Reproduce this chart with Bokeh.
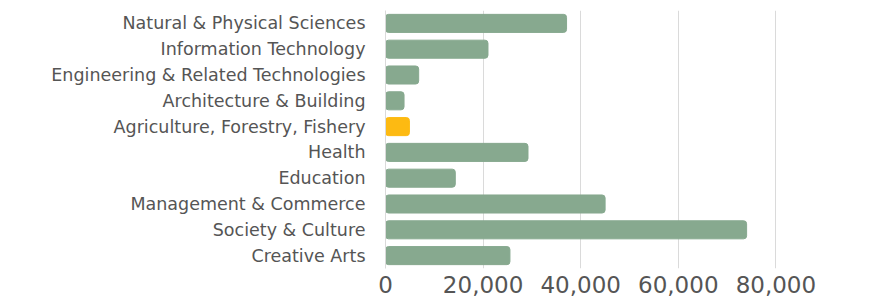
from bokeh.plotting import figure
from bokeh.models import ColumnDataSource, NumeralTickFormatter, FixedTicker, Range1d
from bokeh.embed import file_html
from bokeh.resources import INLINE

categories = ["Creative Arts", "Society & Culture", "Management & Commerce", "Education",
              "Health", "Agriculture, Forestry, Fishery", "Architecture & Building",
              "Engineering & Related Technologies", "Information Technology",
              "Natural & Physical Sciences"]
values = [25500, 74000, 45000, 14300, 29200, 4900, 3800, 6800, 21000, 37100]
colors = ["#87A98F"] * 10
colors[5] = "#FDBA12"
x_ticks = [0, 20000, 40000, 60000, 80000]

src = ColumnDataSource(dict(cat=categories, val=values, color=colors))

p = figure(width=882, height=302, y_range=categories, x_range=Range1d(0, 100000),
           output_backend="svg", toolbar_location=None,
           min_border_left=385, min_border_right=9, min_border_top=10, min_border_bottom=34)
p.hbar(y="cat", right="val", left=0, height=0.7, color="color", source=src,
       border_radius=3)

p.outline_line_color = None
p.ygrid.grid_line_color = None
p.xgrid.grid_line_color = "#DADADA"
p.xgrid.ticker = FixedTicker(ticks=x_ticks)
p.xaxis.ticker = FixedTicker(ticks=x_ticks)
p.xaxis.formatter = NumeralTickFormatter(format="0,0")
p.xaxis.axis_line_color = None
p.xaxis.major_tick_line_color = None
p.xaxis.minor_tick_line_color = None
p.xaxis.major_tick_out = 0
p.xaxis.major_tick_in = 0
p.xaxis.major_label_text_font = "DejaVu Sans"
p.xaxis.major_label_text_font_size = "23px"
p.xaxis.major_label_text_color = "#555555"
p.xaxis.major_label_standoff = 7

p.yaxis.axis_line_color = "#DADADA"
p.yaxis.major_tick_line_color = None
p.yaxis.minor_tick_line_color = None
p.yaxis.major_tick_out = 0
p.yaxis.major_tick_in = 0
p.yaxis.major_label_text_font = "DejaVu Sans"
p.yaxis.major_label_text_font_size = "17.5px"
p.yaxis.major_label_text_color = "#555555"
p.yaxis.major_label_standoff = 20

open("out.html", "w").write(file_html(p, INLINE))
